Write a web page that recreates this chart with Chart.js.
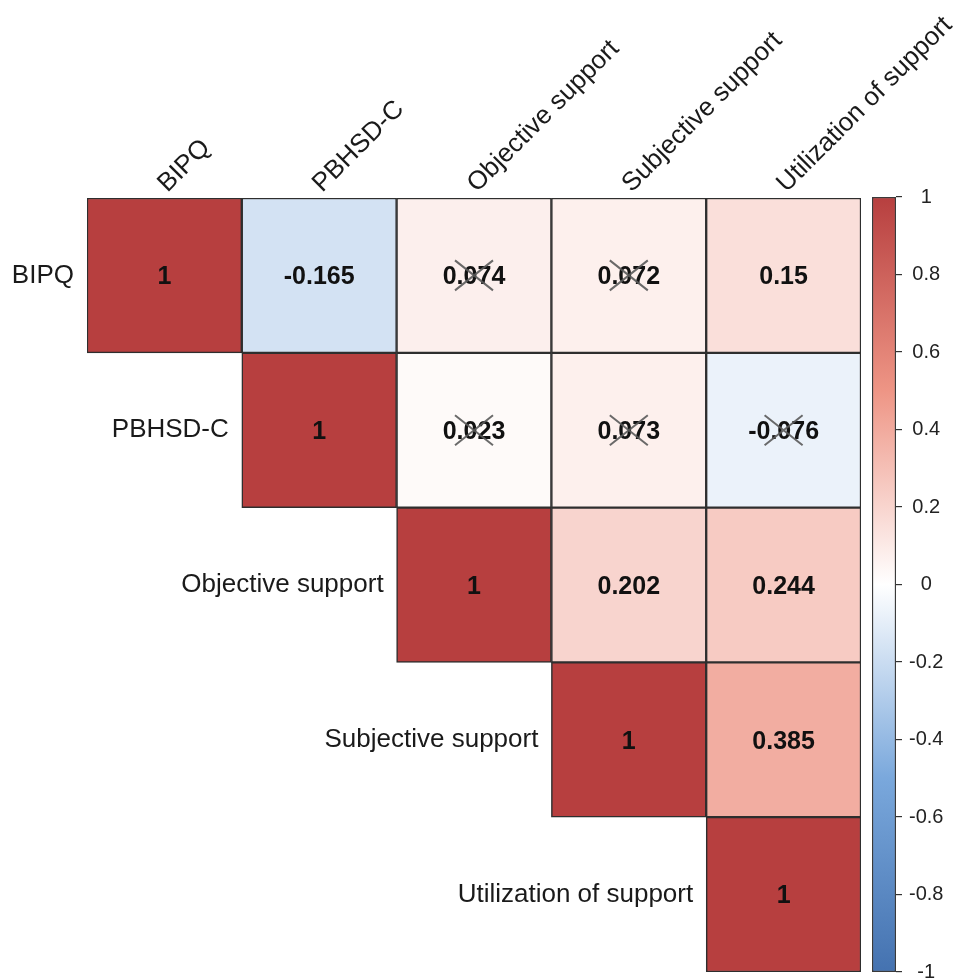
<!DOCTYPE html>
<html>
<head>
<meta charset="utf-8">
<script src="https://cdn.jsdelivr.net/npm/chart.js@4/dist/chart.umd.min.js"></script>
<style>
  html, body { margin: 0; padding: 0; background: #ffffff; }
  #wrap { position: relative; width: 956px; height: 978px; }
  #main { position: absolute; left: 0; top: 0; }
  #bar { position: absolute; left: 860px; top: 0; }
</style>
</head>
<body>
<div id="wrap">
  <canvas id="main" width="956" height="978"></canvas>
  <canvas id="bar" width="96" height="978"></canvas>
</div>
<script>
// ---- data ----
const variables = ["BIPQ", "PBHSD-C", "Objective support", "Subjective support", "Utilization of support"];
const rowBIPQ       = [1, -0.165, 0.074, 0.072, 0.15];
const rowPBHSD      = [null, 1, 0.023, 0.073, -0.076];
const rowObjective  = [null, null, 1, 0.202, 0.244];
const rowSubjective = [null, null, null, 1, 0.385];
const rowUtil       = [null, null, null, null, 1];
// cells crossed out (not significant)
const crossBIPQ       = [false, false, true, true, false];
const crossPBHSD      = [false, false, true, true, true];
const crossObjective  = [false, false, false, false, false];
const crossSubjective = [false, false, false, false, false];
const crossUtil       = [false, false, false, false, false];
const colorbarTicks = [1, 0.8, 0.6, 0.4, 0.2, 0, -0.2, -0.4, -0.6, -0.8, -1];

const rows = [rowBIPQ, rowPBHSD, rowObjective, rowSubjective, rowUtil];
const crosses = [crossBIPQ, crossPBHSD, crossObjective, crossSubjective, crossUtil];

// ---- colour map ----
const stops = [
  [-1,   [68, 114, 176]],
  [-0.5, [122, 168, 220]],
  [0,    [255, 255, 255]],
  [0.5,  [238, 149, 133]],
  [1,    [183, 63, 63]]
];
function colorFor(v) {
  for (let k = 0; k < stops.length - 1; k++) {
    const [a, ca] = stops[k], [b, cb] = stops[k + 1];
    if (v >= a && v <= b) {
      const t = (v - a) / (b - a);
      const c = ca.map((x, i) => Math.round(x + (cb[i] - x) * t));
      return `rgb(${c[0]},${c[1]},${c[2]})`;
    }
  }
  return '#fff';
}

const FONT = '"Liberation Sans", Arial, Helvetica, sans-serif';

// floating bars: each row i -> bars spanning [i, i+1] on reversed y scale
const datasets = rows.map((r, i) => ({
  label: variables[i],
  data: r.map(v => v === null ? null : [i, i + 1]),
  backgroundColor: r.map(v => v === null ? 'rgba(0,0,0,0)' : colorFor(v)),
  borderColor: '#2e2e2e',
  borderWidth: 1.5,
  borderSkipped: false,
  barPercentage: 1,
  categoryPercentage: 1,
  grouped: false
}));

const labelPlugin = {
  id: 'cellLabels',
  afterDatasetsDraw(chart) {
    const ctx = chart.ctx;
    const xs = chart.scales.x, ys = chart.scales.y;
    const cw = xs.getPixelForValue(1) - xs.getPixelForValue(0);
    ctx.save();
    // cell values and crosses
    rows.forEach((r, i) => {
      r.forEach((v, j) => {
        if (v === null) return;
        const cx = xs.getPixelForValue(j);
        const cy = ys.getPixelForValue(i + 0.5);
        ctx.fillStyle = '#111';
        ctx.font = `bold 25px ${FONT}`;
        ctx.textAlign = 'center';
        ctx.textBaseline = 'middle';
        ctx.fillText(String(v), cx, cy + 2);
        if (crosses[i][j]) {
          ctx.strokeStyle = 'rgba(90,90,90,0.9)';
          ctx.lineWidth = 2;
          ctx.beginPath();
          ctx.moveTo(cx - 19, cy - 15); ctx.lineTo(cx + 19, cy + 15);
          ctx.moveTo(cx + 19, cy - 15); ctx.lineTo(cx - 19, cy + 15);
          ctx.stroke();
        }
      });
    });
    // row labels (left of diagonal cell)
    ctx.font = `26px ${FONT}`;
    ctx.fillStyle = '#1a1a1a';
    ctx.textAlign = 'right';
    ctx.textBaseline = 'middle';
    variables.forEach((name, i) => {
      const left = xs.getPixelForValue(i) - cw / 2;
      ctx.fillText(name, left - 13, ys.getPixelForValue(i + 0.5));
    });
    // column labels (rotated, above top)
    ctx.textAlign = 'left';
    ctx.textBaseline = 'alphabetic';
    variables.forEach((name, j) => {
      const x = xs.getPixelForValue(j) + 3;
      const y = ys.getPixelForValue(0) - 5;
      ctx.save();
      ctx.translate(x, y);
      ctx.rotate(-Math.PI / 4);
      ctx.fillText(name, 0, 0);
      ctx.restore();
    });
    ctx.restore();
  }
};

new Chart(document.getElementById('main'), {
  type: 'bar',
  data: { labels: variables, datasets },
  options: {
    responsive: false,
    animation: false,
    layout: { padding: { left: 87, top: 198, right: 95, bottom: 6 } },
    plugins: { legend: { display: false }, tooltip: { enabled: false } },
    scales: {
      x: { type: 'category', display: false, offset: true },
      y: { type: 'linear', min: 0, max: 5, reverse: true, display: false }
    }
  },
  plugins: [labelPlugin]
});

// ---- colour bar ----
new Chart(document.getElementById('bar'), {
  type: 'bar',
  data: {
    labels: ['scale'],
    datasets: [{
      data: [[-1, 1]],
      backgroundColor(c) {
        const chart = c.chart;
        const ys = chart.scales.y;
        if (!chart.chartArea || !ys) return '#fff';
        const g = chart.ctx.createLinearGradient(0, ys.getPixelForValue(-1), 0, ys.getPixelForValue(1));
        stops.forEach(([v, col]) => g.addColorStop((v + 1) / 2, `rgb(${col[0]},${col[1]},${col[2]})`));
        return g;
      },
      borderColor: '#3a3a3a',
      borderWidth: 1.5,
      borderSkipped: false,
      barPercentage: 1,
      categoryPercentage: 1
    }]
  },
  options: {
    responsive: false,
    animation: false,
    layout: { padding: { left: 12, top: 197, right: 0, bottom: 6 } },
    plugins: { legend: { display: false }, tooltip: { enabled: false } },
    scales: {
      x: { display: false },
      y: {
        type: 'linear', position: 'right', min: -1, max: 1,
        afterFit(scale) { scale.width = 60; scale.paddingTop = 0; scale.paddingBottom = 0; },
        afterBuildTicks(scale) { scale.ticks = colorbarTicks.map(v => ({ value: v })); },
        border: { display: false },
        grid: { drawOnChartArea: false, drawTicks: true, tickLength: 6, color: '#333', lineWidth: 1.2 },
        ticks: {
          padding: 7,
          crossAlign: 'center',
          color: '#222',
          font: { family: FONT, size: 20 },
          callback: v => String(Math.round(v * 10) / 10)
        }
      }
    }
  }
});
</script>
</body>
</html>
